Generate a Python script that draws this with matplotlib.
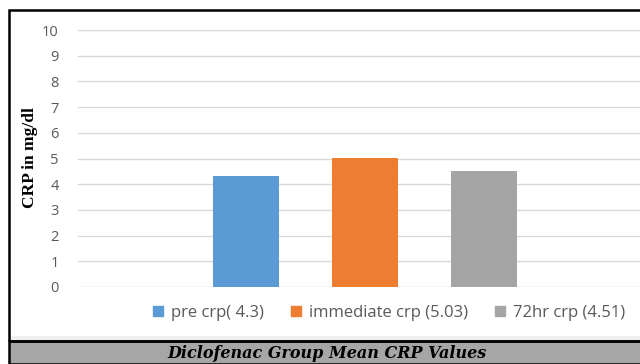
import matplotlib.pyplot as plt
from matplotlib.patches import Rectangle

series = ["pre crp( 4.3)", "immediate crp (5.03)", "72hr crp (4.51)"]
values = [4.3, 5.03, 4.51]
colors = ["#5b9bd5", "#ed7d31", "#a5a5a5"]
yticks = list(range(0, 11))

fig = plt.figure(figsize=(6.4, 3.64), dpi=100)
W, H = 640, 364

# black frame around the chart and grey caption band underneath
fig.patches.append(Rectangle((9 / W, 1 - 341 / H), 1.0, 331 / H, transform=fig.transFigure,
                             fill=False, edgecolor="black", linewidth=1.8, zorder=5))
fig.patches.append(Rectangle((9 / W, 0), 1.0, 1 - 341 / H, transform=fig.transFigure,
                             facecolor="#a6a6a6", edgecolor="black", linewidth=1.8, zorder=4))
fig.patches.append(Rectangle((10 / W, 1 - 340 / H), 1.0, 4 / H, transform=fig.transFigure,
                             facecolor="#f0f0f0", edgecolor="none", zorder=3))
fig.text(327 / W, 1 - 353 / H, "Diclofenac Group Mean CRP Values", ha="center", va="center",
         fontsize=11.5, fontweight="bold", fontstyle="italic", family="DejaVu Serif", zorder=10)

ax = fig.add_axes([78 / W, 1 - 287 / H, 1 - 78 / W, 257 / H])
x = list(range(len(values)))
ax.bar(x, values, width=0.56, color=colors, zorder=3)
ax.set_xlim(-1.41, 3.31)
ax.set_ylim(0, 10)
ax.set_yticks(yticks)
ax.set_xticks([])
ax.grid(axis="y", color="#d9d9d9", linewidth=1.0, zorder=0)
for s in ax.spines.values():
    s.set_visible(False)
ax.tick_params(axis="y", length=0, pad=14, labelsize=10.5, labelcolor="#595959")
for lab in ax.get_yticklabels():
    lab.set_family("Open Sans")

fig.text(30 / W, 1 - 158 / H, "CRP in mg/dl", rotation=90, ha="center", va="center",
         fontsize=12.5, fontweight="bold", family="Liberation Serif")

handles = [Rectangle((0, 0), 1, 1, color=c) for c in colors]
leg = fig.legend(handles, series, loc="center", bbox_to_anchor=(389 / W, 1 - 313 / H),
                 ncol=3, frameon=False, handlelength=0.6, handleheight=0.6,
                 handletextpad=0.5, columnspacing=1.6,
                 prop={"family": "Open Sans", "size": 12})
for t in leg.get_texts():
    t.set_color("#595959")

fig.savefig("out.png", dpi=100)
